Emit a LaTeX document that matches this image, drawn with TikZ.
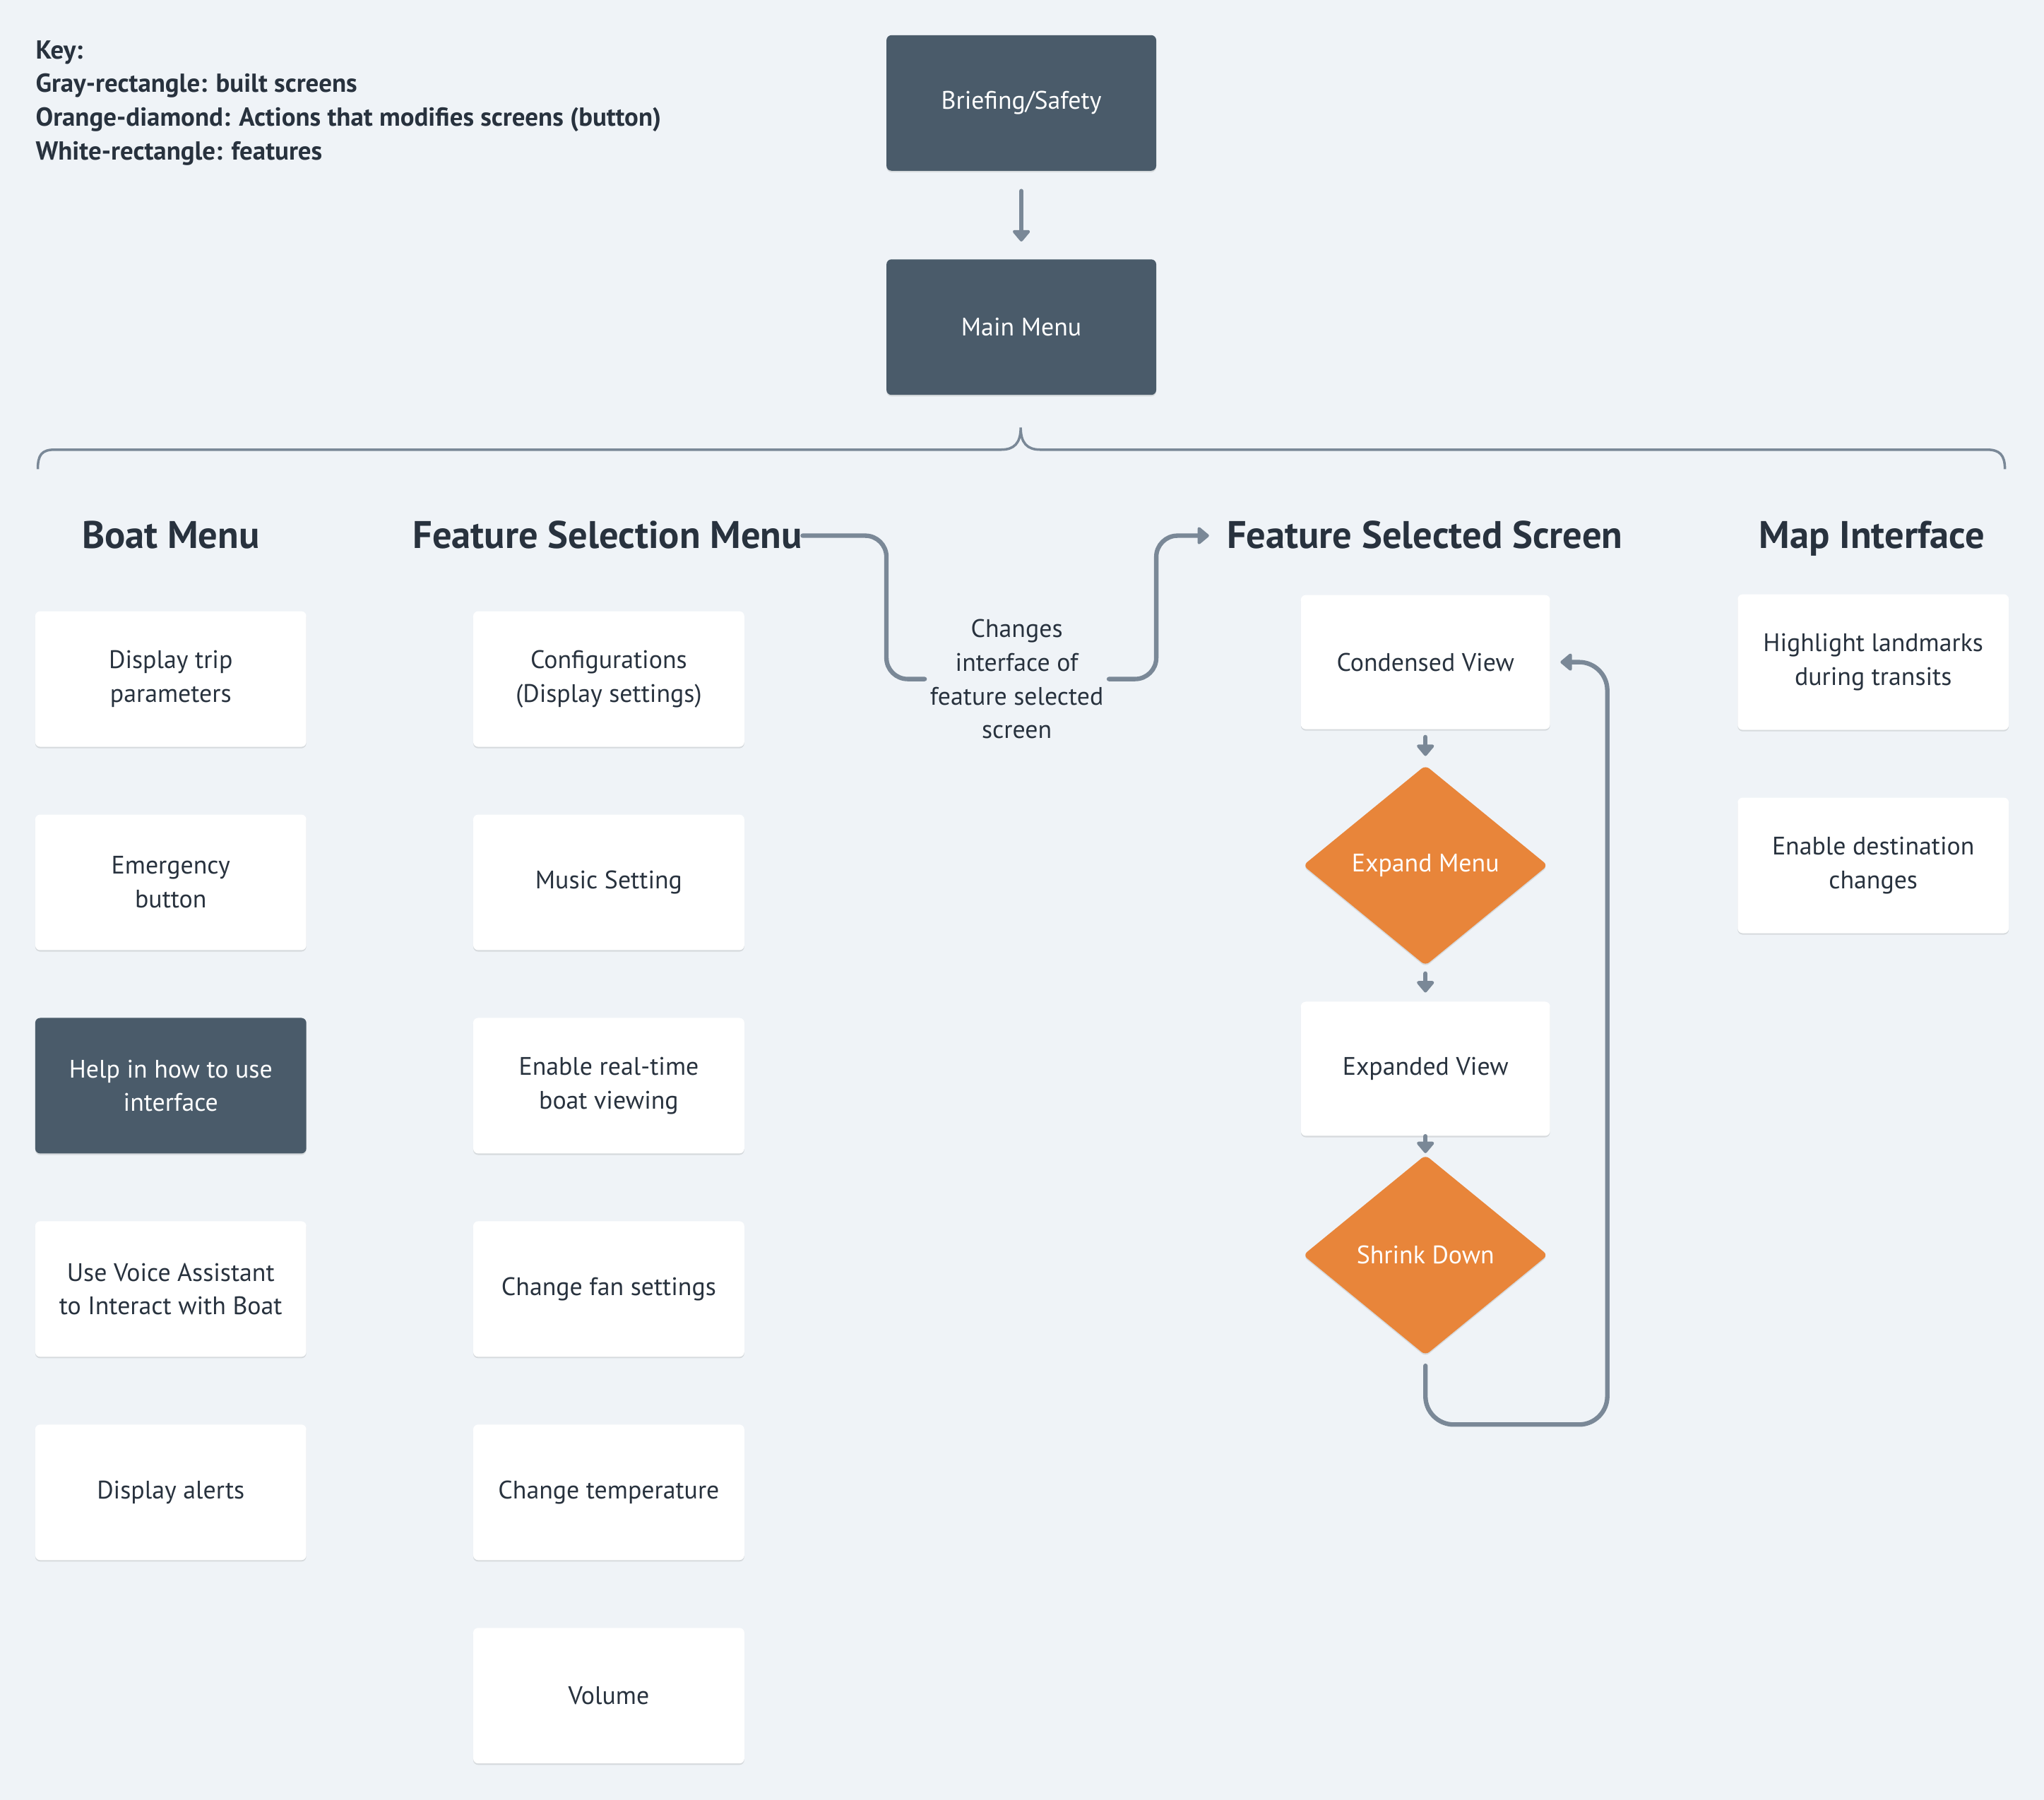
\documentclass[tikz,border=0pt]{standalone}
\usepackage{fontspec}
\setmainfont{PT Sans}
\usepackage{tikz}
\usetikzlibrary{shapes.geometric, arrows.meta, positioning, shadows}
\usepackage{xcolor}
\definecolor{bgcol}{HTML}{EFF3F7}
\definecolor{slate}{HTML}{4A5B6A}
\definecolor{orng}{HTML}{E8853A}
\definecolor{linecol}{HTML}{7A8897}
\definecolor{txtcol}{HTML}{28323E}
\tikzstyle{screen} = [rectangle, rounded corners=2pt, fill=slate, text=white, minimum width=3.84cm, minimum height=1.92cm, align=center, font=\fontsize{10.2}{13.6}\selectfont, drop shadow={shadow xshift=0pt, shadow yshift=-0.6pt, opacity=0.10, fill=black}]
\tikzstyle{feature} = [screen, fill=white, text=txtcol]
\tikzstyle{action} = [diamond, fill=orng, text=white, inner sep=0pt, rounded corners=2pt, minimum width=3.47cm, minimum height=2.84cm, font=\fontsize{10.2}{13.6}\selectfont, drop shadow={shadow xshift=0pt, shadow yshift=-0.6pt, opacity=0.10, fill=black}]
\tikzstyle{heading} = [inner sep=0pt, text height=10pt, text depth=0pt, text=txtcol, font=\fontsize{15.5}{18}\selectfont\bfseries]
\tikzstyle{link} = [line width=1.8pt, draw=linecol, line cap=round]
\tikzstyle{arrow} = [link, -{Triangle[length=5pt,width=8pt,round]}]
\tikzstyle{brace} = [line width=1pt, draw=linecol]

\begin{document}
\begin{tikzpicture}[x=0.018457cm, y=-0.018457cm]

% Background
\fill[bgcol] (0,0) rectangle (1568,1381);
\useasboundingbox (0,0) rectangle (1568,1381);

% Key
\node[anchor=west, align=left, inner sep=0pt, text=txtcol, font=\fontsize{10.5}{13.6}\selectfont\bfseries] (key) at (27,79)
  {Key:\\Gray-rectangle: built screens\\Orange-diamond: Actions that modifies screens (button)\\White-rectangle: features};

% Top screens
\node[screen, minimum width=3.82cm] (brief) at (783.5,79) {Briefing/Safety};
\node[screen, minimum width=3.82cm] (mainmenu) at (783.5,251) {Main Menu};
\draw[arrow, shorten <=8pt, shorten >=7pt] (brief) -- (mainmenu);

% Brace
\draw[brace] (29,360) .. controls (29,349) and (32,345) .. (42,345) -- (768,345)
  .. controls (778,345) and (783,340) .. (783,328)
  .. controls (783,340) and (788,345) .. (798,345) -- (1524,345)
  .. controls (1534,345) and (1538,349) .. (1538,360);

% Column headings
\node[heading] (hboat) at (131,411) {Boat Menu};
\node[heading] (hfsm) at (466,411) {Feature Selection Menu};
\node[heading] (hfss) at (1093,411) {Feature Selected Screen};
\node[heading] (hmap) at (1436,411) {Map Interface};

% Boat menu
\node[feature] (b1) at (131,521) {Display trip\\parameters};
\node[feature] (b2) at (131,677) {Emergency\\button};
\node[screen] (b3) at (131,833) {Help in how to use\\interface};
\node[feature] (b4) at (131,989) {Use Voice Assistant\\to Interact with Boat};
\node[feature] (b5) at (131,1145) {Display alerts};

% Feature selection menu
\node[feature] (f1) at (467,521) {Configurations\\(Display settings)};
\node[feature] (f2) at (467,677) {Music Setting};
\node[feature] (f3) at (467,833) {Enable real-time\\boat viewing};
\node[feature] (f4) at (467,989) {Change fan settings};
\node[feature] (f5) at (467,1145) {Change temperature};
\node[feature] (f6) at (467,1301) {Volume};

% Link between menus
\node[align=center, text=txtcol, inner sep=2pt, font=\fontsize{10.2}{13.6}\selectfont] (chg) at (780,521)
  {Changes\\interface of\\feature selected\\screen};
\coordinate (bendl) at (680,466);
\coordinate (bendr) at (887,466);
\draw[link, rounded corners=0.3cm] (hfsm.east) -| (bendl) |- (chg.west);
\draw[arrow, rounded corners=0.3cm, shorten >=7pt] (chg.east) -| (bendr) |- (hfss.west);

% Feature selected screen
\node[feature, minimum width=3.53cm, minimum height=1.9cm] (cond) at (1093.5,508) {Condensed View};
\node[action] (expm) at (1093.5,664) {Expand Menu};
\node[feature, minimum width=3.53cm, minimum height=1.9cm] (expv) at (1093.5,820) {Expanded View};
\node[action] (shrink) at (1093.5,963) {Shrink Down};
\draw[arrow, shorten <=3pt, shorten >=3.5pt] (cond) -- (expm);
\draw[arrow, shorten <=3pt, shorten >=3.5pt] (expm) -- (expv);
\draw[arrow, shorten <=0pt, shorten >=0.5pt] (expv) -- (shrink);
\coordinate (loopc) at (1233,1093);
\draw[arrow, rounded corners=0.4cm, shorten <=4pt, shorten >=4pt] (shrink.south) |- (loopc) |- (cond.east);

% Map interface
\node[feature] (m1) at (1437,508) {Highlight landmarks\\during transits};
\node[feature] (m2) at (1437,664) {Enable destination\\changes};

\end{tikzpicture}
\end{document}
